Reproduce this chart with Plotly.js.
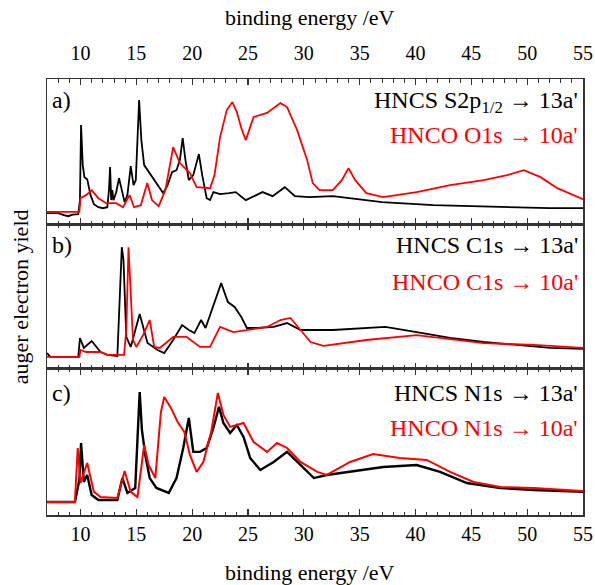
<!DOCTYPE html>
<html>
<head>
<meta charset="utf-8">
<script src="https://cdn.plot.ly/plotly-3.0.1.min.js"></script>
<style>html,body{margin:0;padding:0;background:#fff;}#chart{width:595px;height:585px;}</style>
</head>
<body>
<div id="chart"></div>
<script>
// Panel a) HNCS S2p1/2 -> 13a' (black)
const aBlackE = [7.0,8.0,8.5,8.9,9.3,9.8,9.95,10.05,10.2,10.35,10.6,10.9,11.2,11.6,12.0,12.4,12.55,12.65,12.75,12.85,12.95,13.2,13.45,13.7,13.95,14.2,14.5,14.75,14.95,15.25,15.45,15.7,16.0,16.5,17.0,17.4,17.8,18.2,18.6,18.9,19.15,19.4,19.7,20.1,20.6,20.9,21.3,21.6,21.9,22.5,23.3,23.9,24.8,25.5,26.3,27.2,28.3,29.2,30.5,32.6,35.0,37.0,41.6,45.0,48.0,52.0,55.0];
const aBlackY = [0.076,0.076,0.062,0.055,0.066,0.069,0.166,0.683,0.41,0.324,0.31,0.2,0.138,0.117,0.11,0.117,0.234,0.393,0.166,0.234,0.166,0.22,0.317,0.234,0.152,0.2,0.4,0.269,0.303,0.855,0.579,0.407,0.372,0.317,0.262,0.214,0.269,0.359,0.372,0.441,0.593,0.441,0.303,0.338,0.483,0.338,0.179,0.166,0.221,0.207,0.214,0.221,0.166,0.193,0.221,0.193,0.255,0.193,0.186,0.193,0.172,0.152,0.131,0.124,0.117,0.11,0.11];
// Panel a) HNCO O1s -> 10a' (red)
const aRedE = [7.0,9.9,10.0,10.5,11.0,11.6,12.3,13.2,13.8,14.4,14.8,15.4,15.98,16.4,17.0,17.6,18.3,18.9,19.8,20.4,21.6,22.0,22.5,23.1,23.6,24.0,24.4,24.8,25.5,26.7,27.9,28.5,29.4,30.3,30.8,31.4,32.6,33.4,34.0,34.6,35.6,37.1,40.1,43.1,46.1,48.2,49.7,51.2,52.7,54.8,55.0];
const aRedY = [0.085,0.085,0.179,0.2,0.234,0.179,0.145,0.145,0.117,0.2,0.117,0.131,0.283,0.166,0.124,0.234,0.531,0.421,0.352,0.255,0.248,0.338,0.6,0.786,0.841,0.772,0.662,0.579,0.738,0.766,0.834,0.807,0.648,0.441,0.283,0.234,0.234,0.303,0.386,0.303,0.214,0.186,0.221,0.269,0.303,0.338,0.372,0.324,0.248,0.179,0.172];

// Panel b) HNCS C1s -> 13a' (black)
const bBlackE = [7.0,7.3,9.8,9.95,10.3,11.0,11.8,12.4,13.3,13.5,13.7,13.85,14.1,14.5,15.3,16.0,16.9,17.5,18.3,19.1,19.7,20.2,20.8,21.2,22.0,22.6,23.2,23.8,24.4,24.9,25.8,27.3,28.5,29.7,32.6,37.3,40.1,43.1,46.1,49.1,52.1,55.0];
const bBlackY = [0.11,0.083,0.083,0.214,0.145,0.193,0.117,0.097,0.09,0.476,0.841,0.752,0.221,0.152,0.379,0.179,0.131,0.11,0.2,0.303,0.269,0.248,0.338,0.283,0.455,0.593,0.462,0.428,0.359,0.283,0.283,0.29,0.317,0.269,0.269,0.29,0.255,0.214,0.186,0.166,0.145,0.138];
// Panel b) HNCO C1s -> 10a' (red)
const bRedE = [7.0,9.9,10.0,10.5,11.8,12.4,13.9,14.1,14.3,14.5,14.7,15.0,15.6,16.2,16.6,17.1,18.3,19.5,20.7,21.6,22.5,23.7,24.9,26.7,27.9,28.8,29.7,30.6,31.75,35.6,40.1,42.2,46.1,50.6,55.0];
const bRedY = [0.083,0.083,0.131,0.117,0.117,0.097,0.097,0.269,0.841,0.545,0.2,0.152,0.234,0.338,0.152,0.145,0.221,0.221,0.152,0.152,0.29,0.255,0.269,0.29,0.338,0.352,0.269,0.186,0.159,0.2,0.234,0.214,0.179,0.166,0.145];

// Panel c) HNCS N1s -> 13a' (black)
const cBlackE = [7.0,9.5,9.9,10.05,10.3,10.6,11.0,11.6,13.3,13.75,14.2,14.9,15.1,15.3,15.5,15.8,16.2,16.8,17.9,18.6,19.2,19.7,20.1,20.7,21.3,21.9,22.4,22.8,23.4,24.0,24.6,25.2,26.1,27.3,28.5,29.7,30.9,32.05,34.15,37.1,40.1,42.2,44.6,47.6,50.6,55.0];
const cBlackY = [0.089,0.089,0.24,0.493,0.226,0.274,0.137,0.103,0.103,0.253,0.151,0.185,0.514,0.842,0.582,0.411,0.253,0.185,0.151,0.253,0.459,0.664,0.432,0.432,0.459,0.596,0.74,0.63,0.562,0.616,0.534,0.39,0.308,0.363,0.432,0.342,0.253,0.274,0.295,0.329,0.342,0.295,0.219,0.185,0.171,0.158];
// Panel c) HNCO N1s -> 10a' (red)
const cRedE = [7.0,9.5,9.75,10.0,10.6,11.2,11.8,13.3,13.95,14.5,15.1,15.7,16.1,16.7,17.2,17.5,18.1,18.7,19.3,19.8,20.4,21.0,21.7,22.3,22.8,23.4,24.6,25.5,26.7,27.6,28.5,29.7,31.2,32.05,34.15,36.2,38.6,41.0,43.1,45.2,47.6,50.6,55.0];
const cRedY = [0.089,0.089,0.459,0.219,0.356,0.158,0.123,0.116,0.301,0.158,0.123,0.479,0.342,0.253,0.705,0.808,0.733,0.637,0.568,0.411,0.295,0.363,0.568,0.836,0.685,0.603,0.63,0.5,0.432,0.493,0.459,0.363,0.295,0.274,0.363,0.418,0.39,0.377,0.295,0.226,0.192,0.185,0.164];

const tickVals = [10,15,20,25,30,35,40,45,50,55];
const tickText = ['10','15','20','25','30','35','40','45','50','55'];
const panelLabels = ['a)','b)','c)'];
const blackLabels = ["HNCS S2p<sub>1/2</sub> \u2192 13a'", "HNCS C1s \u2192 13a'", "HNCS N1s \u2192 13a'"];
const redLabels = ["HNCO O1s \u2192 10a'", "HNCO C1s \u2192 10a'", "HNCO N1s \u2192 10a'"];
const xTitle = 'binding energy /eV';
const yTitle = 'auger electron yield';

const FONT = '"Liberation Serif", "Times New Roman", serif';
const BLACK = '#000000';
const RED = '#ff0000';

function tr(x, y, color, xa, ya, w) {
  return {x: x, y: y, type: 'scatter', mode: 'lines', line: {color: color, width: w || 1.8},
          xaxis: xa, yaxis: ya, hoverinfo: 'skip', showlegend: false};
}
const data = [
  tr(aBlackE, aBlackY, BLACK, 'x', 'y'),
  tr(aRedE, aRedY, RED, 'x', 'y'),
  tr(bBlackE, bBlackY, BLACK, 'x2', 'y2'),
  tr(bRedE, bRedY, RED, 'x2', 'y2'),
  tr(cBlackE, cBlackY, BLACK, 'x3', 'y3', 2.4),
  tr(cRedE, cRedY, RED, 'x3', 'y3', 2.0)
];

function xax(anchor, showLabels, side) {
  return {
    anchor: anchor, range: [7, 55], side: side, showgrid: false, zeroline: false,
    showline: true, linecolor: '#333', linewidth: 1.5, mirror: 'allticks',
    ticks: 'inside', ticklen: 6, tickwidth: 1.2, tickcolor: '#333',
    tickvals: tickVals, ticktext: tickText, showticklabels: showLabels,
    tickfont: {family: FONT, size: 20, color: '#000'},
    minor: {dtick: 1, ticks: 'inside', ticklen: 3.5, tickwidth: 1, tickcolor: '#333'},
    fixedrange: true
  };
}
function yax(anchor, dom) {
  return {anchor: anchor, domain: dom, range: [0, 1], showgrid: false, zeroline: false,
          showline: true, linecolor: '#333', linewidth: 1.5, mirror: true,
          ticks: '', showticklabels: false, fixedrange: true};
}

const layout = {
  width: 595, height: 585,
  margin: {l: 47, r: 12, t: 79, b: 70},
  paper_bgcolor: '#fff', plot_bgcolor: '#fff',
  font: {family: FONT},
  showlegend: false,
  xaxis: Object.assign(xax('y', true, 'top'), {ticklabelstandoff: 10}),
  xaxis2: Object.assign(xax('y2', false, 'bottom'), {matches: 'x'}),
  xaxis3: Object.assign(xax('y3', true, 'bottom'), {matches: 'x'}),
  yaxis: yax('x', [0.667, 1]),
  yaxis2: yax('x2', [0.335, 0.667]),
  yaxis3: yax('x3', [0, 0.335]),
  annotations: []
};

const panelY = [0.952, 0.619, 0.28];
const blackY = [0.947, 0.619, 0.28];
const redY = [0.872, 0.534, 0.2];
for (let i = 0; i < 3; i++) {
  layout.annotations.push({text: panelLabels[i], xref: 'paper', yref: 'paper', x: 0.006, y: panelY[i],
    xanchor: 'left', yanchor: 'middle', showarrow: false, font: {family: FONT, size: 24, color: '#000'}});
  layout.annotations.push({text: blackLabels[i], xref: 'paper', yref: 'paper', x: 0.994, y: blackY[i],
    xanchor: 'right', yanchor: 'middle', showarrow: false, font: {family: FONT, size: 24, color: BLACK}});
  layout.annotations.push({text: redLabels[i], xref: 'paper', yref: 'paper', x: 0.994, y: redY[i],
    xanchor: 'right', yanchor: 'middle', showarrow: false, font: {family: FONT, size: 24, color: RED}});
}
layout.annotations.push({text: xTitle, xref: 'paper', yref: 'paper', x: 0.49, y: 1.14,
  xanchor: 'center', yanchor: 'middle', showarrow: false, font: {family: FONT, size: 22, color: '#000'}});
layout.annotations.push({text: xTitle, xref: 'paper', yref: 'paper', x: 0.49, y: -0.131,
  xanchor: 'center', yanchor: 'middle', showarrow: false, font: {family: FONT, size: 22, color: '#000'}});
layout.annotations.push({text: yTitle, xref: 'paper', yref: 'paper', x: -0.05, y: 0.5,
  xanchor: 'center', yanchor: 'middle', textangle: -90, showarrow: false, font: {family: FONT, size: 22, color: '#000'}});

Plotly.newPlot('chart', data, layout, {staticPlot: true, displayModeBar: false});
</script>
</body>
</html>
